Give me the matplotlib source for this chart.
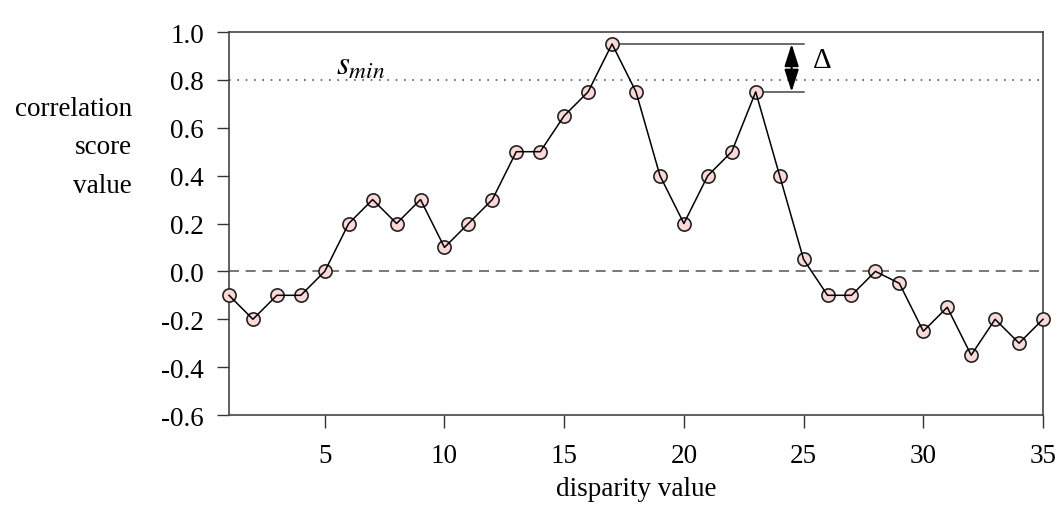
import matplotlib
matplotlib.use("Agg")
import matplotlib.pyplot as plt

# disparity vs correlation score
disparity = list(range(1, 36))
score = [-0.1, -0.2, -0.1, -0.1, 0.0, 0.2, 0.3, 0.2, 0.3, 0.1,
         0.2, 0.3, 0.5, 0.5, 0.65, 0.75, 0.95, 0.75, 0.4, 0.2,
         0.4, 0.5, 0.75, 0.4, 0.05, -0.1, -0.1, 0.0, -0.05, -0.25,
         -0.15, -0.35, -0.2, -0.3, -0.2]
s_min = 0.8
peak1_x, peak1_y = 17, 0.95
peak2_x, peak2_y = 23, 0.75
delta_x = 24.5
line_end = 25

xticks = [5, 10, 15, 20, 25, 30, 35]
yticks = [-0.6, -0.4, -0.2, 0.0, 0.2, 0.4, 0.6, 0.8, 1.0]

plt.rcParams['font.family'] = ['Liberation Serif', 'DejaVu Serif']
plt.rcParams['mathtext.fontset'] = 'stix'

fig = plt.figure(figsize=(10.61, 5.06), dpi=100)
ax = fig.add_axes([229 / 1061, 1 - 416 / 506, (1043 - 229) / 1061, (416 - 33) / 506])

ax.axhline(0.0, color='#6e5a5a', linestyle=(0, (6, 4)), linewidth=1.2, zorder=1)
ax.axhline(s_min, color='#555555', linestyle=(0, (1, 4)), linewidth=1.2, zorder=1)

ax.plot(disparity, score, linestyle='none', marker='o', markersize=9.5,
        markerfacecolor='#fcd9d9', markeredgecolor='#222222', markeredgewidth=1.2,
        zorder=4, clip_on=False)
ax.plot(disparity, score, color='black', linewidth=1.1, zorder=5, clip_on=False)

# delta between the two highest peaks
ax.plot([peak1_x, line_end], [peak1_y, peak1_y], color='#444444', linewidth=1.1, zorder=1)
ax.plot([peak2_x, line_end], [peak2_y, peak2_y], color='#444444', linewidth=1.1, zorder=1)
ax.annotate('', xy=(delta_x, peak1_y), xytext=(delta_x, peak2_y),
            arrowprops=dict(arrowstyle='<|-|>,head_length=0.75,head_width=0.24',
                            mutation_scale=18, color='black', lw=1.5,
                            shrinkA=0, shrinkB=0))
ax.text(25.4, 0.885, '\u0394', fontsize=21, va='center', ha='left')
ax.text(5.45, 0.86, r'$\mathit{s}_{\mathit{min}}$', fontsize=24, ha='left', va='center')

ax.set_xlim(1, 35)
ax.set_ylim(-0.6, 1.0)
ax.set_xticks(xticks)
ax.set_yticks(yticks)
ax.set_yticklabels(['%.1f' % v for v in yticks])
ax.tick_params(direction='out', length=9, labelsize=19.5, width=1, colors='#333333',
               labelcolor='black', pad=9)
ax.tick_params(axis='x', pad=11)
for sp in ax.spines.values():
    sp.set_color('#444444')
    sp.set_linewidth(1.2)

ax.set_xlabel('disparity value', fontsize=19.5, labelpad=6)
fig.text(132 / 1061, 1 - 148 / 506, 'correlation\nscore\nvalue', fontsize=19.5,
         ha='right', va='center', linespacing=1.7)

fig.savefig('out.png', dpi=100)
